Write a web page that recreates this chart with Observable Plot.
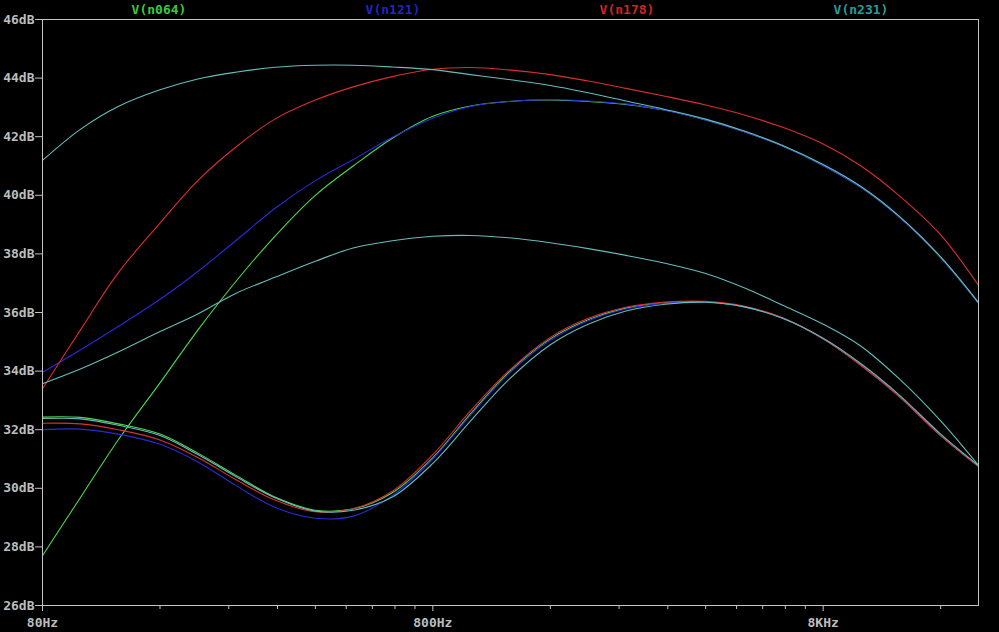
<!DOCTYPE html>
<html>
<head>
<meta charset="utf-8">
<script src="https://cdn.jsdelivr.net/npm/d3@7"></script>
<script src="https://cdn.jsdelivr.net/npm/@observablehq/plot@0.6"></script>
<style>
  html, body { margin: 0; padding: 0; background: #000; }
  #wrap { position: relative; width: 999px; height: 632px; background: #000; overflow: hidden; }
  #wrap svg { display: block; }
  #legend { position: absolute; top: 1px; left: 42px; width: 936px; display: flex;
            font-family: "DejaVu Sans Mono", monospace; font-weight: bold; font-size: 13px; line-height: 17px; }
  #legend div { flex: 1; text-align: center; }
</style>
</head>
<body>
<div id="wrap"><div id="legend"></div></div>
<script>
// ---- data ----
const freq = [80,100,125,160,200,250,315,400,500,630,800,1000,1250,1600,2000,2500,3150,4000,5000,6300,8000,10000,12500,16000,20000];

const traceNames  = ["V(n064)", "V(n121)", "V(n178)", "V(n231)"];
const labelColors = ["#3cc83c", "#2424c4", "#cc2424", "#2a9a9a"];
const lineColors  = ["#50d850", "#2a2ad8", "#d83030", "#66bcbc"];

// upper family
const n064_a = [27.7,29.68,31.65,33.6,35.4,37.05,38.6,40.0,41.0,41.95,42.7,43.05,43.2,43.25,43.2,43.1,42.9,42.57,42.18,41.68,41.02,40.27,39.27,37.87,36.32];
const n121_a = [33.96,34.72,35.52,36.45,37.4,38.45,39.55,40.5,41.22,41.98,42.63,43.03,43.2,43.26,43.22,43.12,42.9,42.57,42.18,41.68,41.02,40.27,39.27,37.87,36.32];
const n178_a = [33.4,35.4,37.35,39.05,40.5,41.64,42.6,43.25,43.7,44.05,44.3,44.36,44.28,44.12,43.9,43.65,43.38,43.08,42.75,42.32,41.75,41.0,40.0,38.65,36.92];
const n231_a = [41.19,42.25,43.03,43.6,43.97,44.2,44.37,44.44,44.44,44.38,44.29,44.12,43.95,43.75,43.5,43.22,42.93,42.6,42.2,41.7,41.05,40.3,39.3,37.9,36.34];
// middle trace
const n231_b = [33.57,34.07,34.65,35.35,35.95,36.65,37.2,37.75,38.2,38.45,38.6,38.63,38.55,38.38,38.18,37.95,37.68,37.33,36.85,36.25,35.6,34.85,33.75,32.3,30.78];
// lower family
const n064_c = [32.43,32.42,32.2,31.85,31.2,30.45,29.7,29.25,29.3,29.85,31.05,32.55,33.95,35.1,35.75,36.15,36.33,36.36,36.2,35.8,35.1,34.2,33.15,31.8,30.75];
const n121_c = [32.0,32.02,31.85,31.5,30.9,30.1,29.35,28.98,29.05,29.75,31.0,32.5,33.9,35.05,35.72,36.12,36.32,36.35,36.2,35.8,35.1,34.2,33.15,31.8,30.75];
const n178_c = [32.22,32.2,32.0,31.65,31.05,30.3,29.6,29.2,29.3,29.9,31.15,32.65,34.0,35.15,35.8,36.18,36.36,36.38,36.22,35.82,35.1,34.2,33.15,31.8,30.75];
const n231_c = [32.38,32.37,32.15,31.8,31.15,30.4,29.68,29.22,29.25,29.7,30.85,32.3,33.7,34.9,35.6,36.05,36.28,36.35,36.2,35.8,35.12,34.25,33.2,31.85,30.78];

const traces = [
  {id: "n064_a", trace: 0, values: n064_a},
  {id: "n064_c", trace: 0, values: n064_c},
  {id: "n121_a", trace: 1, values: n121_a},
  {id: "n121_c", trace: 1, values: n121_c},
  {id: "n178_a", trace: 2, values: n178_a},
  {id: "n178_c", trace: 2, values: n178_c},
  {id: "n231_a", trace: 3, values: n231_a},
  {id: "n231_b", trace: 3, values: n231_b},
  {id: "n231_c", trace: 3, values: n231_c}
];

const xMajorTicks  = [80, 800, 8000];
const xMajorLabels = ["80Hz", "800Hz", "8KHz"];
const xMinorTicks  = [160,240,320,400,480,560,640,720,1600,2400,3200,4000,4800,5600,6400,7200,16000];
const yTicks       = [26,28,30,32,34,36,38,40,42,44,46];
const yUnit        = "dB";

// ---- build ----
const rows = traces.flatMap(t => t.values.map((v, i) => ({id: t.id, trace: t.trace, f: freq[i], db: v})));
const xLabelRows = xMajorTicks.map((f, i) => ({f, label: xMajorLabels[i]}));

const axisColor = "#c4c4c4";
const textColor = "#bdbdbd";
const font = "DejaVu Sans Mono, monospace";

const chart = Plot.plot({
  width: 999,
  height: 632,
  marginLeft: 42,
  marginRight: 21,
  marginTop: 19,
  marginBottom: 27,
  style: {background: "#000", color: textColor, fontFamily: font, fontSize: "13px", fontWeight: "bold"},
  x: {type: "log", domain: [80, 20000]},
  y: {domain: [26, 46]},
  marks: [
    Plot.line(rows, {x: "f", y: "db", z: "id", stroke: d => lineColors[d.trace], strokeWidth: 1.1, curve: "catmull-rom"}),
    Plot.frame({stroke: axisColor, strokeWidth: 1}),
    Plot.axisY({ticks: yTicks, tickFormat: d => d + yUnit, tickSize: 7, tickPadding: 1, stroke: axisColor, label: null}),
    Plot.axisX({ticks: xMajorTicks, tickFormat: () => "", tickSize: 6, stroke: axisColor, label: null}),
    Plot.axisX({ticks: xMinorTicks, tickFormat: () => "", tickSize: 4, stroke: axisColor, label: null}),
    Plot.text(xLabelRows, {x: "f", text: "label", frameAnchor: "bottom", lineAnchor: "middle", dy: 17, fill: textColor})
  ]
});

document.getElementById("wrap").appendChild(chart);
const legend = document.getElementById("legend");
traceNames.forEach((name, i) => {
  const d = document.createElement("div");
  d.textContent = name;
  d.style.color = labelColors[i];
  legend.appendChild(d);
});
</script>
</body>
</html>
